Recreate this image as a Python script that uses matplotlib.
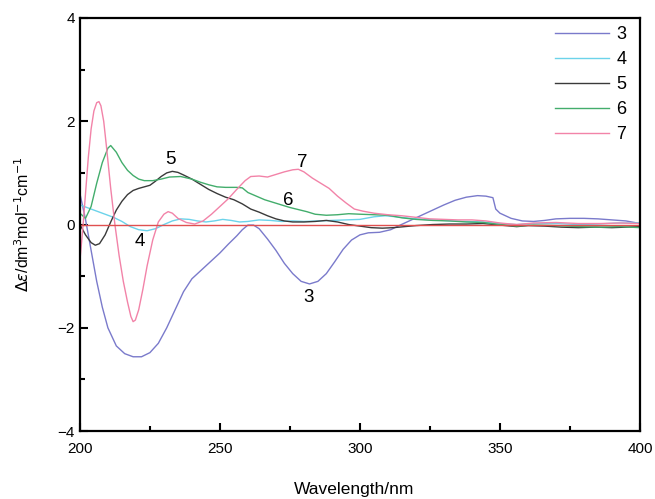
import matplotlib
matplotlib.use("Agg")
import matplotlib.pyplot as plt
from matplotlib.ticker import MultipleLocator

plt.rcParams['font.family'] = ['Liberation Sans', 'DejaVu Sans']

# ---- data ----
x3 = [200, 202, 204, 206, 208, 210, 213, 216, 219, 222, 225, 228, 231, 234, 237, 240, 243, 246, 250, 253,
      256, 258, 260, 262, 264, 267, 270, 273, 276, 279, 282, 285, 288, 291, 294, 297, 300, 303, 307, 311,
      314, 318, 322, 326, 330, 334, 338, 342, 345, 347.5, 348.5, 350, 354, 358, 362, 366, 370, 375, 380,
      385, 390, 395, 400]
y3 = [0.6, 0.1, -0.5, -1.1, -1.6, -2.0, -2.35, -2.5, -2.56, -2.56, -2.48, -2.3, -2.0, -1.65, -1.3, -1.05,
      -0.9, -0.75, -0.55, -0.38, -0.22, -0.1, -0.01, -0.01, -0.08, -0.28, -0.5, -0.75, -0.95, -1.1, -1.15,
      -1.1, -0.95, -0.72, -0.48, -0.3, -0.2, -0.16, -0.15, -0.1, -0.02, 0.08, 0.18, 0.28, 0.38, 0.47, 0.53,
      0.56, 0.55, 0.52, 0.3, 0.22, 0.12, 0.07, 0.06, 0.08, 0.11, 0.12, 0.12, 0.11, 0.09, 0.07, 0.02]

x4 = [200, 203, 206, 209, 212, 215, 218, 221, 224, 227, 230, 233, 236, 239, 242, 245, 248, 251, 254, 257,
      260, 264, 268, 272, 276, 280, 285, 290, 295, 300, 305, 309, 313, 318, 323, 330, 337, 344, 350, 356,
      362, 370, 378, 385, 392, 400]
y4 = [0.38, 0.32, 0.26, 0.2, 0.14, 0.06, -0.04, -0.1, -0.12, -0.08, 0.0, 0.07, 0.11, 0.1, 0.07, 0.05,
      0.07, 0.1, 0.08, 0.05, 0.06, 0.09, 0.08, 0.06, 0.07, 0.06, 0.07, 0.08, 0.09, 0.1, 0.15, 0.17, 0.15,
      0.12, 0.1, 0.08, 0.06, 0.05, 0.02, 0.0, 0.02, 0.02, 0.0, 0.01, 0.03, 0.03]

x5 = [200, 202, 204, 205.5, 207, 209, 211, 213, 215, 217, 219, 221, 223, 225, 227, 229, 231, 233, 235,
      237, 240, 243, 246, 249, 252, 255, 258, 261, 264, 267, 270, 273, 276, 280, 284, 288, 292, 296, 300,
      304, 308, 312, 316, 320, 326, 332, 338, 344, 350, 356, 360, 366, 372, 378, 384, 390, 395, 400]
y5 = [0.0, -0.2, -0.35, -0.4, -0.37, -0.2, 0.05, 0.28, 0.45, 0.58, 0.66, 0.7, 0.73, 0.76, 0.84, 0.93,
      1.0, 1.03, 1.01, 0.96, 0.88, 0.78, 0.68, 0.6, 0.53, 0.48, 0.4, 0.3, 0.24, 0.17, 0.11, 0.07, 0.05,
      0.05, 0.06, 0.08, 0.05, 0.0, -0.03, -0.06, -0.07, -0.06, -0.04, -0.02, 0.0, 0.01, 0.01, 0.02, -0.01,
      -0.04, -0.02, -0.03, -0.05, -0.06, -0.05, -0.06, -0.05, -0.04]

x6 = [200, 202, 204, 206, 208, 210, 211, 213, 215, 217, 219, 221, 223, 226, 229, 232, 236, 240, 243,
      246, 249, 252, 256, 258, 260, 263, 266, 269, 272, 275, 278, 281, 284, 288, 292, 296, 300, 305, 310,
      315, 320, 326, 332, 338, 344, 350, 356, 362, 370, 378, 386, 393, 400]
y6 = [0.22, 0.12, 0.35, 0.8, 1.2, 1.48, 1.53, 1.4, 1.2, 1.05, 0.95, 0.88, 0.85, 0.85, 0.88, 0.92, 0.93,
      0.88, 0.82, 0.77, 0.73, 0.72, 0.72, 0.71, 0.62, 0.55, 0.48, 0.43, 0.38, 0.33, 0.29, 0.25, 0.2, 0.18,
      0.19, 0.21, 0.2, 0.19, 0.18, 0.13, 0.1, 0.08, 0.07, 0.05, 0.04, 0.0, -0.03, -0.01, -0.02, -0.04,
      -0.05, -0.04, -0.06]

x7 = [200, 201, 202, 203, 204, 205, 206, 206.8, 207.5, 208.5, 209.5, 211, 212.5, 214, 215.5, 217, 218.2,
      219, 219.8, 221, 222.5, 224, 226, 228, 230, 231.5, 233, 235, 238, 241, 244, 247, 250, 253, 256, 259,
      261, 264, 267, 270, 273, 276, 278, 280, 283, 286, 289, 292, 295, 298, 301, 305, 310, 315, 320, 325,
      330, 335, 340, 345, 350, 356, 362, 370, 378, 386, 393, 400]
y7 = [-0.7, -0.1, 0.6, 1.3, 1.85, 2.2, 2.36, 2.38, 2.3, 2.0, 1.5, 0.7, 0.0, -0.6, -1.1, -1.5, -1.78, -1.88,
      -1.85, -1.65, -1.25, -0.8, -0.3, 0.05, 0.2, 0.25, 0.22, 0.12, 0.04, 0.01, 0.07, 0.2, 0.35, 0.5, 0.68,
      0.85, 0.93, 0.94, 0.92, 0.97, 1.02, 1.06, 1.07, 1.02, 0.9, 0.8, 0.7, 0.55, 0.42, 0.3, 0.26, 0.22,
      0.19, 0.17, 0.14, 0.11, 0.1, 0.09, 0.09, 0.07, 0.03, 0.0, 0.03, 0.04, 0.02, 0.02, 0.03, 0.02]

baseline_x = [200, 400]
baseline_y = [0, 0]

labels = ['3', '4', '5', '6', '7']
colors = ['#7a7acb', '#6cd3ea', '#3a3a3a', '#43ad6c', '#f283a8']

# annotation positions (data coords)
ann_x = [281.5, 221.5, 232.5, 274.5, 279.5]
ann_y = [-1.42, -0.33, 1.25, 0.47, 1.21]

# ---- figure ----
fig = plt.figure(figsize=(6.55, 4.99), dpi=100)
ax = fig.add_axes([0.122, 0.136, 0.855, 0.828])

series = [(x3, y3), (x4, y4), (x5, y5), (x6, y6), (x7, y7)]
for (xs, ys), lab, c in zip(series, labels, colors):
    ax.plot(xs, ys, color=c, lw=1.0, label=lab)
ax.plot(baseline_x, baseline_y, color='#e05050', lw=1.0)

for lab, xa, ya in zip(labels, ann_x, ann_y):
    ax.text(xa, ya, lab, fontsize=13.5, ha='center', va='center')

ax.set_xlim(200, 400)
ax.set_ylim(-4, 4)
ax.xaxis.set_major_locator(MultipleLocator(50))
ax.xaxis.set_minor_locator(MultipleLocator(25))
ax.yaxis.set_major_locator(MultipleLocator(2))
ax.yaxis.set_minor_locator(MultipleLocator(1))
ax.tick_params(which='both', direction='in', top=False, right=False, labelsize=11, width=1.5)
ax.tick_params(which='major', length=6)
ax.tick_params(which='minor', length=3.5)
ax.tick_params(axis='x', pad=8)
for s in ax.spines.values():
    s.set_linewidth(1.6)

ax.set_xlabel('Wavelength/nm', fontsize=12.5)
ax.xaxis.set_label_coords(0.49, -0.122)
ax.set_ylabel(r'$\Delta\varepsilon$/dm$^3$mol$^{-1}$cm$^{-1}$', fontsize=11.5)
ax.yaxis.set_label_coords(-0.085, 0.5)

leg = ax.legend(loc='upper right', frameon=False, fontsize=13, handlelength=3.0,
                labelspacing=0.45, handletextpad=0.4, bbox_to_anchor=(1.005, 1.02))

fig.savefig('out.png', dpi=100)
